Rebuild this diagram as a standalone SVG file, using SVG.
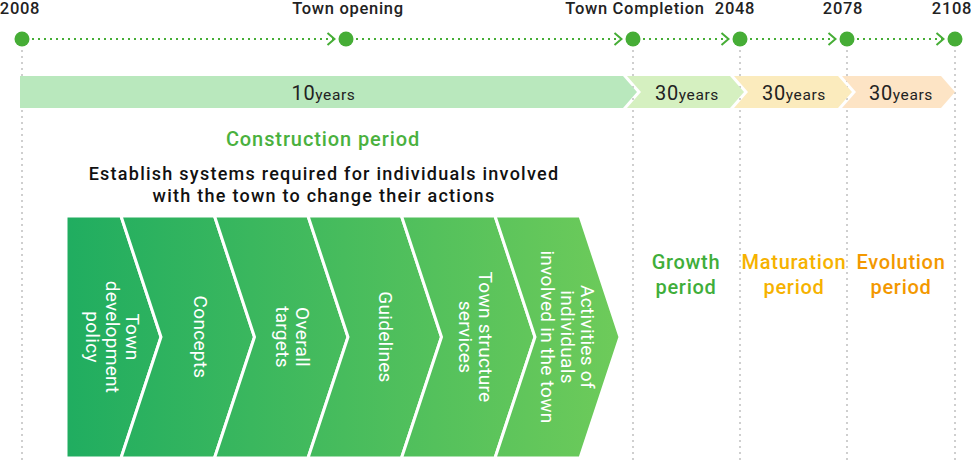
<svg xmlns="http://www.w3.org/2000/svg" width="971" height="463" viewBox="0 0 971 463">
<defs>
<linearGradient id="chev" gradientUnits="userSpaceOnUse" x1="66" y1="0" x2="620" y2="0">
<stop offset="0" stop-color="#20ad60"/>
<stop offset="1" stop-color="#6ecb5a"/>
</linearGradient>
<marker id="arr" viewBox="0 0 10 14" refX="9" refY="7" markerWidth="10" markerHeight="14" markerUnits="userSpaceOnUse" orient="auto">
<polyline points="1.5,1 8.5,7 1.5,13" fill="none" stroke="#46ad36" stroke-width="2"/>
</marker>
<style>
.lbl{font-family:Roboto,"Liberation Sans",sans-serif;font-weight:500;font-size:16.5px;letter-spacing:0.7px;fill:#222;text-anchor:middle}
.dot{fill:#46ad36}
.tl{stroke:#46ad36;stroke-width:2;stroke-dasharray:2 4;fill:none}
.vl{stroke:#cfcfcf;stroke-width:2;stroke-dasharray:2 4;fill:none}
.bt{font-family:Roboto,"Liberation Sans",sans-serif;fill:#222;text-anchor:middle;letter-spacing:0.6px}
.big{font-size:20px;font-weight:400}
.sm{font-size:15.5px;font-weight:400}
.seg{fill:url(#chev);stroke:#fff;stroke-width:3;stroke-linejoin:miter}
.ct{font-family:Roboto,"Liberation Sans",sans-serif;font-size:19px;letter-spacing:0.3px;fill:#fff;text-anchor:middle}
.per{font-family:Roboto,"Liberation Sans",sans-serif;font-weight:500;font-size:20px;letter-spacing:0.7px;text-anchor:middle}
.hd{font-family:Roboto,"Liberation Sans",sans-serif;font-weight:500;text-anchor:middle}
</style>
</defs>
<rect width="971" height="463" fill="#fff"/>

<g id="guides">
<line class="vl" x1="22" y1="50" x2="22" y2="463"/>
<line class="vl" x1="633" y1="50" x2="633" y2="463"/>
<line class="vl" x1="740" y1="50" x2="740" y2="463"/>
<line class="vl" x1="847" y1="50" x2="847" y2="463"/>
<line class="vl" x1="955" y1="50" x2="955" y2="463"/>
</g>

<g id="connectors">
<line class="tl" x1="32" y1="39" x2="335" y2="39" marker-end="url(#arr)"/>
<line class="tl" x1="356" y1="39" x2="622" y2="39" marker-end="url(#arr)"/>
<line class="tl" x1="643" y1="39" x2="729" y2="39" marker-end="url(#arr)"/>
<line class="tl" x1="750" y1="39" x2="836" y2="39" marker-end="url(#arr)"/>
<line class="tl" x1="857" y1="39" x2="944" y2="39" marker-end="url(#arr)"/>
</g>

<g id="timeline">
<g id="m2008"><circle class="dot" cx="22" cy="39" r="7.5"/><text class="lbl" x="20" y="14">2008</text></g>
<g id="mopening"><circle class="dot" cx="346" cy="39" r="7.5"/><text class="lbl" x="348" y="14">Town opening</text></g>
<g id="mcompletion"><circle class="dot" cx="633" cy="39" r="7.5"/><text class="lbl" x="635" y="14">Town Completion</text></g>
<g id="m2048"><circle class="dot" cx="740" cy="39" r="7.5"/><text class="lbl" x="735" y="14">2048</text></g>
<g id="m2078"><circle class="dot" cx="847" cy="39" r="7.5"/><text class="lbl" x="843" y="14">2078</text></g>
<g id="m2108"><circle class="dot" cx="955" cy="39" r="7.5"/><text class="lbl" x="952" y="14">2108</text></g>
</g>

<g id="bar10">
<polygon points="20,76 623,76 637,92 623,108 20,108" fill="#b9e8bd"/>
<text class="bt" x="323.5" y="99.5"><tspan class="big">10</tspan><tspan class="sm">years</tspan></text>
</g>
<g id="bar30a">
<polygon points="627,76 730,76 744,92 730,108 627,108 641,92" fill="#d5f0c0"/>
<text class="bt" x="687" y="99.5"><tspan class="big">30</tspan><tspan class="sm">years</tspan></text>
</g>
<g id="bar30b">
<polygon points="734,76 838,76 852,92 838,108 734,108 748,92" fill="#fbebbd"/>
<text class="bt" x="794" y="99.5"><tspan class="big">30</tspan><tspan class="sm">years</tspan></text>
</g>
<g id="bar30c">
<polygon points="842,76 941,76 955,92 941,108 842,108 856,92" fill="#fde4c5"/>
<text class="bt" x="901" y="99.5"><tspan class="big">30</tspan><tspan class="sm">years</tspan></text>
</g>

<g id="construction">
<text class="hd" x="323" y="146" font-size="20" letter-spacing="0.9" fill="#4ab13e">Construction period</text>
<text class="hd" x="324" y="180" font-size="18" letter-spacing="1.25" fill="#111">Establish systems required for individuals involved</text>
<text class="hd" x="324" y="202" font-size="18" letter-spacing="1.25" fill="#111">with the town to change their actions</text>
</g>

<g id="s1">
<polygon class="seg" points="66,216 121,216 161,337 121,458 66,458"/>
<text class="ct" transform="translate(111.7,337) rotate(90)"><tspan x="0" y="-14">Town</tspan><tspan x="0" y="6">development</tspan><tspan x="0" y="26">policy</tspan></text>
</g>
<g id="s2">
<polygon class="seg" points="121,216 214.5,216 254.5,337 214.5,458 121,458 161,337"/>
<text class="ct" transform="translate(200,337) rotate(90)"><tspan x="0" y="6">Concepts</tspan></text>
</g>
<g id="s3">
<polygon class="seg" points="214.5,216 308,216 348,337 308,458 214.5,458 254.5,337"/>
<text class="ct" transform="translate(291.7,337) rotate(90)"><tspan x="0" y="-4">Overall</tspan><tspan x="0" y="16">targets</tspan></text>
</g>
<g id="s4">
<polygon class="seg" points="308,216 401.5,216 441.5,337 401.5,458 308,458 348,337"/>
<text class="ct" transform="translate(385,337) rotate(90)"><tspan x="0" y="6">Guidelines</tspan></text>
</g>
<g id="s5">
<polygon class="seg" points="401.5,216 495,216 535,337 495,458 401.5,458 441.5,337"/>
<text class="ct" transform="translate(475,337) rotate(90)"><tspan x="0" y="-4">Town structure</tspan><tspan x="0" y="16">services</tspan></text>
</g>
<g id="s6">
<polygon class="seg" points="495,216 580,216 620,337 580,458 495,458 535,337"/>
<text class="ct" transform="translate(566.7,337) rotate(90)"><tspan x="0" y="-14">Activities of</tspan><tspan x="0" y="6">individuals</tspan><tspan x="0" y="26">involved in the town</tspan></text>
</g>

<g id="growth">
<text class="per" fill="#3fae3a"><tspan x="686" y="269">Growth</tspan><tspan x="686" y="294">period</tspan></text>
</g>
<g id="maturation">
<text class="per" fill="#f6b200"><tspan x="794" y="269">Maturation</tspan><tspan x="794" y="294">period</tspan></text>
</g>
<g id="evolution">
<text class="per" fill="#f39800"><tspan x="901" y="269">Evolution</tspan><tspan x="901" y="294">period</tspan></text>
</g>
</svg>
